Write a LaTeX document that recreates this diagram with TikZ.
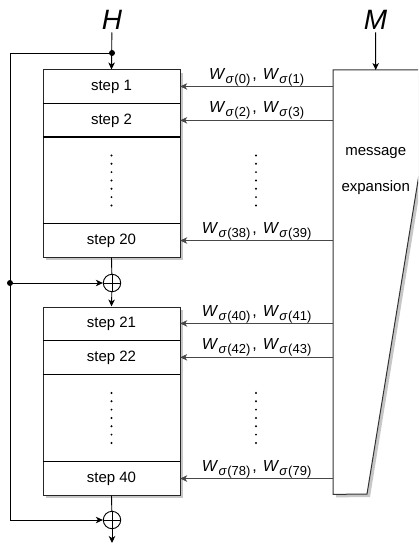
\documentclass[tikz,border=0pt]{standalone}
\usepackage{fontspec}
\setmainfont{Liberation Sans}
\usetikzlibrary{arrows.meta,shadows,calc}
\newcommand{\wsub}[1]{\textit{W}\kern0.3pt\raisebox{-4pt}{\fontsize{13}{13}\selectfont\textit{σ}\kern0.5pt(#1)}}
\newcommand{\wpair}[2]{\wsub{#1}\kern2pt,\kern6pt\wsub{#2}}
\begin{document}
\begin{tikzpicture}[x=1pt,y=-1pt,
  shad/.style={drop shadow={shadow xshift=3pt, shadow yshift=-3pt, fill=black!22, opacity=1}},
  box/.style={draw=black!85, line width=1pt, fill=white, minimum width=137pt, inner sep=0pt, shad},
  row/.style={minimum width=137pt, minimum height=33.5pt, inner sep=0pt, font=\fontsize{15}{15}\selectfont},
  sepline/.style={line width=1.6pt, black},
  arr/.style={-{Stealth[length=7pt,width=6.5pt,inset=2pt]}, line width=0.9pt},
  conn/.style={arr, draw=black!72},
  lab/.style={anchor=south, inner sep=0pt, font=\fontsize{16}{16}\selectfont},
  big/.style={font=\fontsize{28}{28}\selectfont\itshape, inner sep=3pt, anchor=base},
  txt/.style={font=\fontsize{15}{15}\selectfont, inner sep=0pt, anchor=base},
  oplus/.style={circle, draw, line width=0.9pt, minimum size=17.4pt, inner sep=0pt,
    path picture={\draw[line width=0.9pt] (path picture bounding box.north) -- (path picture bounding box.south)
      (path picture bounding box.west) -- (path picture bounding box.east);}},
  dotm/.style={circle, fill, inner sep=0pt, minimum size=6pt}
]
\useasboundingbox (0,0) rectangle (418,545);
\clip (0,0) rectangle (418,545);

% message expansion block
\node[minimum width=85pt, minimum height=424pt, inner sep=0pt, anchor=north west] (ME) at (333,70) {};
\path[draw=black!80, line width=1pt, fill=white, shad]
  (ME.north west) -- (436,70) -- (367,494) -- (ME.south west) -- cycle;
\node[txt] (msg1) at ($(ME.north)+(0,86)$) {message};
\node[txt] (msg2) at ($(ME.north)+(0,122)$) {expansion};

% step boxes
\node[box, minimum height=187pt] (B1) at (111.5,163.5) {};
\node[box, minimum height=188pt] (B2) at (111.5,401) {};

\node[row, anchor=north] (s1) at (B1.north) {step 1};
\node[row, anchor=north] (s2) at (s1.south) {step 2};
\node[row, anchor=south] (s20) at (B1.south) {step 20};
\node[row, anchor=north] (s21) at (B2.north) {step 21};
\node[row, anchor=north] (s22) at (s21.south) {step 22};
\node[row, anchor=south] (s40) at (B2.south) {step 40};

\draw[sepline] (s1.south west) -- (s1.south east);
\draw[sepline] (s2.south west) -- (s2.south east);
\draw[sepline] (s20.north west) -- (s20.north east);
\draw[sepline] (s21.south west) -- (s21.south east);
\draw[sepline] (s22.south west) -- (s22.south east);
\draw[sepline] (s40.north west) -- (s40.north east);

% vertical dots
\coordinate (d1) at ($(s2.south)!0.5!(s20.north)$);
\coordinate (d2) at ($(s22.south)!0.5!(s40.north)$);
\foreach \c in {d1,d2}{
  \foreach \k in {-3,...,3}{
    \fill ($(\c)+(0,\k*8.33)$) circle (1.1pt);
    \fill ($(\c)+(144.5,\k*8.33)$) circle (1.1pt);
  }
}

% inputs H and M
\node[big] (H) at (112,29.3) {H};
\node[big] (M) at (375.5,29.3) {M};
\draw[arr] (H) -- (B1.north);
\draw[arr] (M) -- (ME.north);

% feed-forward
\coordinate (D1) at (112,53);
\coordinate (L1) at (10,53);
\coordinate (L2) at (10,283);
\coordinate (L3) at (10,520);
\node[oplus] (P1) at (112,283) {};
\node[oplus] (P2) at (112,520) {};
\coordinate (OUT) at (112,543);
\draw[line width=0.9pt] (D1) -- (L1) -- (L3);
\draw[arr] (L3) -- (P2);
\draw[arr] (L2) -- (P1);
\node[dotm] (dot1) at (D1) {};
\node[dotm] (dot2) at (L2) {};
\draw[line width=0.9pt] (B1.south) -- (P1);
\draw[arr] (P1) -- (B2.north);
\draw[line width=0.9pt] (B2.south) -- (P2);
\draw[arr] (P2) -- (OUT);

% message words
\foreach \r/\a/\b in {s1/0/1, s2/2/3, s20/38/39, s21/40/41, s22/42/43, s40/78/79}{
  \draw[conn] (ME.west |- \r.east) -- (\r.east);
  \node[lab] (w\r) at ($(ME.west |- \r.east)!0.5!(\r.east)+(0,-0.5)$) {\wpair{\a}{\b}};
}
\end{tikzpicture}
\end{document}
